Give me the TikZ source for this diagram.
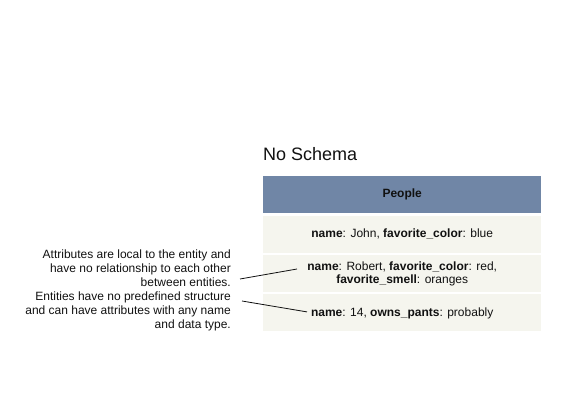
\documentclass[tikz,border=0pt]{standalone}
\usepackage{fontspec}
\setmainfont{Liberation Sans}
\usetikzlibrary{positioning, calc}
\definecolor{HeadSlate}{HTML}{7086A6}
\definecolor{RowCream}{HTML}{F5F5EE}
\definecolor{InkDark}{HTML}{111111}

\tikzset{
  rowbox/.style={fill=RowCream, minimum width=278pt, minimum height=37pt, inner sep=0pt,
    align=center, font=\fontsize{12}{13}\selectfont, text=InkDark},
  headbox/.style={rowbox, fill=HeadSlate, font=\fontsize{12}{13}\selectfont\bfseries},
  notetext/.style={align=right, inner sep=0pt, font=\fontsize{12}{14}\selectfont, text=InkDark}
}

\begin{document}
\begin{tikzpicture}[x=1pt, y=-1pt]
    \useasboundingbox (0,0) rectangle (568,402);

    % Title
    \node[anchor=base west, inner sep=0pt, font=\fontsize{18}{20}\selectfont, text=InkDark] (title) at (263,160) {No Schema};

    % Table of entities
    \node[headbox, anchor=north west] (head) at (263,176) {People};
    \node[rowbox, below=2pt of head] (john) {\textbf{name}: John, \textbf{favorite\_color}: blue};
    \node[rowbox, below=2pt of john] (robert) {\textbf{name}: Robert, \textbf{favorite\_color}: red,\\\textbf{favorite\_smell}: oranges};
    \node[rowbox, below=2pt of robert] (fourteen) {\textbf{name}: 14, \textbf{owns\_pants}: probably};

    % Notes on the left
    \node[notetext, anchor=north east] (localnote) at (231,250) {Attributes are local to the entity and\\have no relationship to each other\\between entities.};
    \node[notetext, anchor=north east] (structnote) at (231,292) {Entities have no predefined structure\\and can have attributes with any name\\and data type.};

    % Pointers
    \coordinate (localtip) at (240,279);
    \coordinate (structtip) at (242,301);
    \draw[line width=0.8pt, InkDark] (localtip) -- ($(robert.west)+(34,-4.5)$);
    \draw[line width=0.8pt, InkDark] (structtip) -- ($(fourteen.west)+(44,-1)$);
\end{tikzpicture}
\end{document}
